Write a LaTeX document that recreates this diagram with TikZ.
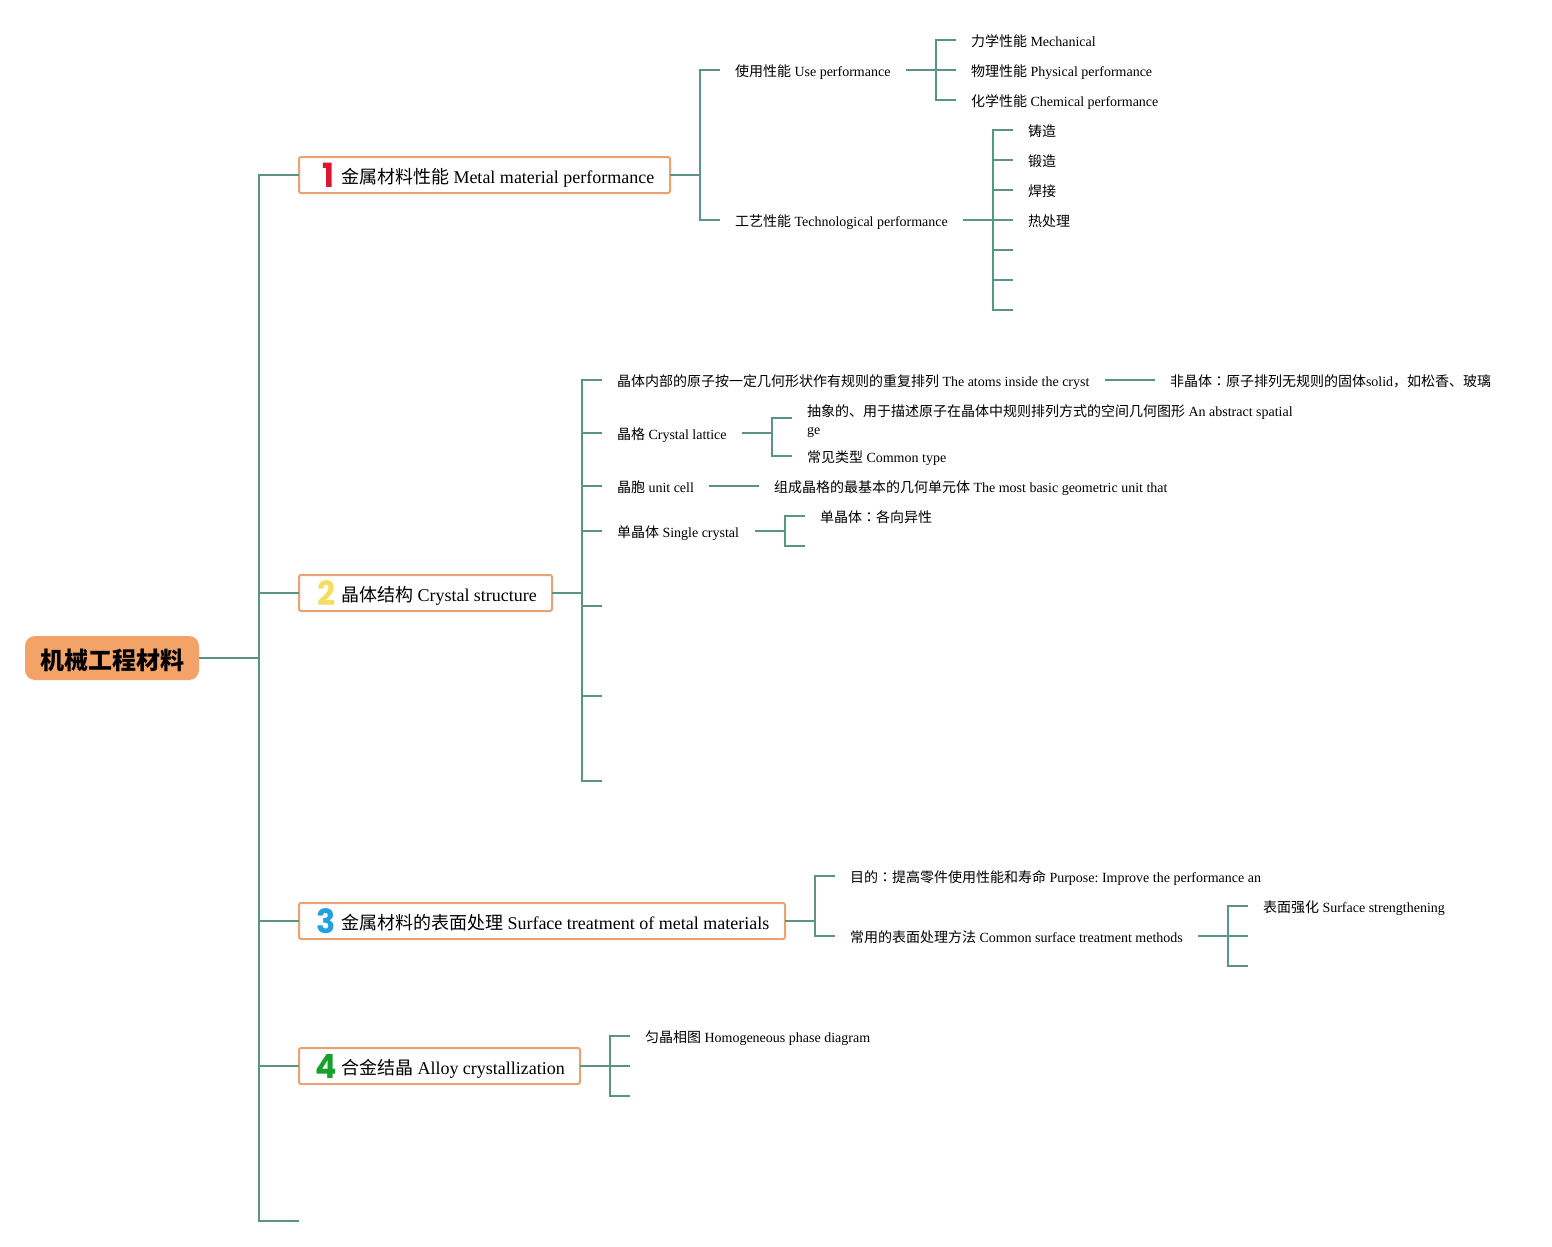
\documentclass[tikz,border=0pt]{standalone}
\usepackage{fontspec}
\setmainfont{Liberation Serif}
\frenchspacing
\newfontfamily\cjk{Noto Sans CJK SC}
\newfontfamily\cjktc{Noto Sans CJK TC}
\newfontfamily\numf{Poppins}
\newcommand\tb[2]{\makebox[\dimexpr #1pt*3/4\relax][l]{#2}}
\newcommand\zh[1]{{\cjk #1}}
\newcommand\cln{{\cjktc ：}}
\definecolor{linec}{HTML}{5B9485}
\definecolor{topicc}{HTML}{E9A273}
\definecolor{rootc}{HTML}{F4A368}
\definecolor{numa}{HTML}{DC1430}
\definecolor{numb}{HTML}{F3DD62}
\definecolor{numc}{HTML}{22A0E0}
\definecolor{numd}{HTML}{18A02C}
\tikzset{
  conn/.style={draw=linec,line width=1.5pt,line join=miter},
  leaf/.style={anchor=west,inner xsep=11.25pt,inner ysep=0pt,outer sep=0pt,font=\fontsize{10.5pt}{13.5pt}\selectfont,text height=11pt,text depth=2pt},
  topic/.style={anchor=west,draw=topicc,line width=1.5pt,fill=white,rounded corners=1.5pt,inner xsep=0pt,inner ysep=0pt,outer sep=0pt,minimum height=27pt,font=\fontsize{13.5pt}{16pt}\selectfont,text height=14.25pt,text depth=2.25pt},
  rootn/.style={fill=rootc,rounded corners=7.5pt,inner sep=0pt,outer sep=0pt,minimum width=130.5pt,minimum height=33pt,font=\fontsize{18pt}{20pt}\selectfont\bfseries,text height=19pt,text depth=2pt},
  numn/.style={inner sep=0pt,font=\fontsize{25pt}{25pt}\selectfont\numf\bfseries,xscale=.95}
}
\begin{document}
\begin{tikzpicture}[x=0.75pt,y=-0.75pt]
\useasboundingbox (0,0) rectangle (1552,1246);
% root
\node[rootn] (root) at (112,658) {\zh{机械工程材料}};
% topics
\node[topic] (t1) at (299,175) {\tb{371}{\hspace*{31.5pt}\zh{金属材料性能} Metal material performance}};
\node[topic] (t2) at (299,593) {\tb{253}{\hspace*{31.5pt}\zh{晶体结构} Crystal structure}};
\node[topic] (t3) at (299,921) {\tb{486}{\hspace*{31.5pt}\zh{金属材料的表面处理} Surface treatment of metal materials}};
\node[topic] (t4) at (299,1066) {\tb{281}{\hspace*{31.5pt}\zh{合金结晶} Alloy crystallization}};
\node[numn,text=numa] (n1) at (328,175) {1};
\node[numn,text=numb] (n2) at (326.5,593.5) {2};
\node[numn,text=numc] (n3) at (326.5,921) {3};
\node[numn,text=numd] (n4) at (326.5,1066) {4};
\coordinate (t5) at (299,1221);
\coordinate (s0) at (259,658);
% topic 1
\node[leaf] (a1) at (720,70) {\tb{156}{\zh{使用性能} Use performance}};
\node[leaf] (a2) at (720,220) {\tb{213}{\zh{工艺性能} Technological performance}};
\node[leaf] (a11) at (956,40) {\zh{力学性能} Mechanical};
\node[leaf] (a12) at (956,70) {\zh{物理性能} Physical performance};
\node[leaf] (a13) at (956,100) {\zh{化学性能} Chemical performance};
\node[leaf] (a21) at (1013,130) {\zh{铸造}};
\node[leaf] (a22) at (1013,160) {\zh{锻造}};
\node[leaf] (a23) at (1013,190) {\zh{焊接}};
\node[leaf] (a24) at (1013,220) {\zh{热处理}};
\coordinate (a25) at (1013,250);
\coordinate (a26) at (1013,280);
\coordinate (a27) at (1013,310);
\coordinate (s1) at (700,175);
\coordinate (s11) at (936,70);
\coordinate (s12) at (993,220);
% topic 2
\node[leaf] (b1) at (602,380) {\tb{473}{\zh{晶体内部的原子按一定几何形状作有规则的重复排列} The atoms inside the cryst}};
\node[leaf] (b11) at (1155,380) {\zh{非晶体}\cln\zh{原子排列无规则的固体}solid\zh{，如松香、玻璃}};
\node[leaf] (b2) at (602,433) {\tb{110}{\zh{晶格} Crystal lattice}};
\node[leaf,align=left,text height=25.5pt,text depth=1.5pt] (b21) at (792,418) {\zh{抽象的、用于描述原子在晶体中规则排列方式的空间几何图形} An abstract spatial\\ge};
\node[leaf] (b22) at (792,456) {\zh{常见类型} Common type};
\node[leaf] (b3) at (602,486) {\tb{77}{\zh{晶胞} unit cell}};
\node[leaf] (b31) at (759,486) {\zh{组成晶格的最基本的几何单元体} The most basic geometric unit that};
\node[leaf] (b4) at (602,531) {\tb{123}{\zh{单晶体} Single crystal}};
\node[leaf] (b41) at (805,516) {\zh{单晶体}\cln\zh{各向异性}};
\coordinate (b42) at (805,546);
\coordinate (b5) at (602,606);
\coordinate (b6) at (602,696);
\coordinate (b7) at (602,781);
\coordinate (s2) at (582,593);
\coordinate (s22) at (772,433);
\coordinate (s24) at (785,531);
% topic 3
\node[leaf] (c1) at (835,876) {\zh{目的}\cln\zh{提高零件使用性能和寿命} Purpose: Improve the performance an};
\node[leaf] (c2) at (835,936) {\tb{333}{\zh{常用的表面处理方法} Common surface treatment methods}};
\node[leaf] (c21) at (1248,906) {\zh{表面强化} Surface strengthening};
\coordinate (c22) at (1248,936);
\coordinate (c23) at (1248,966);
\coordinate (s3) at (815,921);
\coordinate (s32) at (1228,936);
% topic 4
\node[leaf] (d1) at (630,1036) {\zh{匀晶相图} Homogeneous phase diagram};
\coordinate (d2) at (630,1066);
\coordinate (d3) at (630,1096);
\coordinate (s4) at (610,1066);
% connectors
\draw[conn] (root.east) -- (s0);
\foreach \c in {t1,t2,t3,t4,t5} \draw[conn] (s0) |- (\c.west);
\draw[conn] (t1.east) -- (s1);
\foreach \c in {a1,a2} \draw[conn] (s1) |- (\c.west);
\draw[conn] (a1.east) -- (s11);
\foreach \c in {a11,a12,a13} \draw[conn] (s11) |- (\c.west);
\draw[conn] (a2.east) -- (s12);
\foreach \c in {a21,a22,a23,a24,a25,a26,a27} \draw[conn] (s12) |- (\c.west);
\draw[conn] (t2.east) -- (s2);
\foreach \c in {b1,b2,b3,b4,b5,b6,b7} \draw[conn] (s2) |- (\c.west);
\draw[conn] (b1.east) -- (b11.west);
\draw[conn] (b2.east) -- (s22);
\foreach \c in {b21,b22} \draw[conn] (s22) |- (\c.west);
\draw[conn] (b3.east) -- (b31.west);
\draw[conn] (b4.east) -- (s24);
\foreach \c in {b41,b42} \draw[conn] (s24) |- (\c.west);
\draw[conn] (t3.east) -- (s3);
\foreach \c in {c1,c2} \draw[conn] (s3) |- (\c.west);
\draw[conn] (c2.east) -- (s32);
\foreach \c in {c21,c22,c23} \draw[conn] (s32) |- (\c.west);
\draw[conn] (t4.east) -- (s4);
\foreach \c in {d1,d2,d3} \draw[conn] (s4) |- (\c.west);
\end{tikzpicture}
\end{document}
